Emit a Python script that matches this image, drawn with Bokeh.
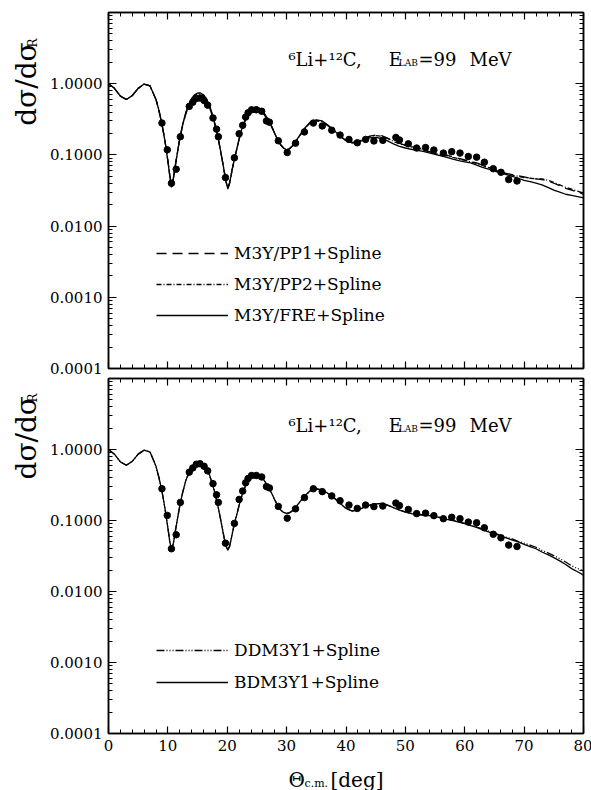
import numpy as np
from bokeh.embed import file_html
from bokeh.layouts import column, row
from bokeh.models import (CustomJSTickFormatter, FixedTicker, Label, Legend, LegendItem,
                          LinearAxis, LogAxis, PrintfTickFormatter, Range1d)
from bokeh.plotting import figure
from bokeh.resources import INLINE

SERIF = "DejaVu Serif"

# ---------------------------------------------------------------------------
# Measured elastic cross section, 6Li + 12C at 99 MeV (ratio to Rutherford)
# ---------------------------------------------------------------------------
theta_exp = [9.0, 9.9, 10.6, 11.4, 12.1, 13.6, 14.2, 14.8, 15.4, 16.1,
             16.7, 17.6, 18.2, 18.5, 19.7, 21.2, 22.0, 22.6, 23.1, 23.5,
             24.1, 24.9, 25.8, 26.6, 27.1, 28.6, 30.1, 31.5, 33.0, 34.5,
             36.0, 37.6, 39.0, 40.5, 41.9, 43.3, 44.7, 46.2, 48.4, 49.0,
             50.5, 51.9, 53.4, 54.8, 56.4, 57.8, 59.2, 60.6, 62.0, 63.3,
             64.8, 66.1, 67.4, 68.8]
ratio_exp = [0.28, 0.118, 0.040, 0.063, 0.18, 0.48, 0.55, 0.62, 0.63, 0.58,
             0.50, 0.33, 0.23, 0.18, 0.048, 0.091, 0.198, 0.26, 0.34, 0.39,
             0.43, 0.43, 0.41, 0.30, 0.288, 0.158, 0.108, 0.146, 0.21, 0.28,
             0.255, 0.222, 0.19, 0.165, 0.148, 0.165, 0.157, 0.16, 0.176, 0.162,
             0.143, 0.125, 0.127, 0.117, 0.106, 0.111, 0.106, 0.095, 0.093, 0.079,
             0.064, 0.057, 0.045, 0.043]

# ---------------------------------------------------------------------------
# Optical-model calculations (angle grid shared by all curves)
# ---------------------------------------------------------------------------
theta_calc = [0, 1, 2, 3, 4, 5, 6, 7, 8,
              8.5, 9, 9.5, 10, 10.3, 10.6, 10.9, 11.3, 11.7, 12,
              12.5, 13, 13.5, 14, 14.5, 15, 15.5, 16, 16.5, 17, 17.5, 18, 18.5, 19, 19.5,
              19.8, 20.1, 20.4, 20.8, 21.2, 21.7, 22,
              22.5, 23, 23.5, 24, 24.5, 25, 25.5, 26, 26.5, 27, 27.5, 28, 28.5, 29, 29.5,
              30, 30.5, 31, 31.5, 32,
              33, 34, 35, 36, 37, 38, 39, 40, 41, 42, 43, 44, 45, 46, 47, 48, 49, 50,
              51, 52, 53, 54, 55, 56, 57, 58, 59, 60, 61, 62, 63, 64, 65, 66, 67, 68,
              69, 70, 71, 72, 73, 74, 75, 76, 77, 78, 79, 80]

m3y_pp1 = [1.00, 0.86, 0.67, 0.60, 0.68, 0.86, 0.99, 0.93, 0.60,
           0.42, 0.27, 0.16, 0.083, 0.054, 0.037, 0.046, 0.076, 0.12, 0.165,
           0.26, 0.37, 0.49, 0.59, 0.66, 0.70, 0.70, 0.66, 0.58, 0.47, 0.35, 0.25, 0.165, 0.10, 0.058,
           0.043, 0.035, 0.041, 0.061, 0.088, 0.13, 0.165,
           0.23, 0.30, 0.36, 0.41, 0.44, 0.45, 0.43, 0.39, 0.34, 0.29, 0.245, 0.20, 0.163, 0.139, 0.125,
           0.120, 0.123, 0.134, 0.152, 0.175,
           0.23, 0.28, 0.30, 0.29, 0.255, 0.215, 0.182, 0.160, 0.150, 0.155, 0.170, 0.183, 0.190, 0.186,
           0.172, 0.157, 0.145, 0.137, 0.131, 0.126, 0.120, 0.112, 0.105, 0.102, 0.099, 0.094, 0.089,
           0.085, 0.081, 0.077, 0.072, 0.067, 0.062, 0.058, 0.055, 0.053, 0.051, 0.049, 0.047, 0.046,
           0.045, 0.043, 0.040, 0.037, 0.034, 0.032, 0.030, 0.028]

m3y_pp2 = [1.00, 0.86, 0.67, 0.60, 0.68, 0.86, 0.99, 0.93, 0.60,
           0.42, 0.27, 0.16, 0.082, 0.053, 0.036, 0.045, 0.075, 0.12, 0.168,
           0.265, 0.38, 0.50, 0.60, 0.68, 0.72, 0.72, 0.68, 0.595, 0.485, 0.36, 0.255, 0.168, 0.10, 0.058,
           0.042, 0.034, 0.040, 0.060, 0.088, 0.13, 0.167,
           0.235, 0.305, 0.37, 0.42, 0.45, 0.46, 0.44, 0.40, 0.35, 0.295, 0.248, 0.20, 0.163, 0.138, 0.124,
           0.119, 0.122, 0.134, 0.152, 0.176,
           0.232, 0.285, 0.305, 0.295, 0.258, 0.218, 0.183, 0.160, 0.149, 0.153, 0.167, 0.180, 0.187, 0.183,
           0.170, 0.155, 0.143, 0.135, 0.129, 0.124, 0.118, 0.110, 0.104, 0.100, 0.097, 0.092, 0.088,
           0.084, 0.080, 0.076, 0.071, 0.066, 0.061, 0.057, 0.054, 0.052, 0.050, 0.048, 0.047, 0.046,
           0.046, 0.044, 0.041, 0.038, 0.035, 0.033, 0.031, 0.029]

m3y_fre = [1.00, 0.86, 0.67, 0.60, 0.68, 0.86, 0.99, 0.93, 0.60,
           0.42, 0.27, 0.16, 0.082, 0.052, 0.035, 0.045, 0.075, 0.12, 0.17,
           0.27, 0.39, 0.51, 0.62, 0.70, 0.74, 0.74, 0.70, 0.61, 0.50, 0.37, 0.26, 0.17, 0.10, 0.058,
           0.042, 0.033, 0.040, 0.060, 0.088, 0.13, 0.17,
           0.24, 0.31, 0.38, 0.43, 0.46, 0.47, 0.45, 0.41, 0.355, 0.30, 0.25, 0.20, 0.163, 0.138, 0.124,
           0.118, 0.122, 0.134, 0.153, 0.178,
           0.235, 0.29, 0.31, 0.30, 0.26, 0.22, 0.185, 0.158, 0.147, 0.150, 0.162, 0.173, 0.176, 0.170,
           0.157, 0.143, 0.132, 0.125, 0.120, 0.116, 0.112, 0.107, 0.102, 0.097, 0.092, 0.087, 0.083,
           0.080, 0.077, 0.072, 0.067, 0.063, 0.059, 0.056, 0.053, 0.050, 0.047, 0.044, 0.042, 0.040,
           0.038, 0.035, 0.032, 0.030, 0.028, 0.027, 0.026, 0.025]

ddm3y1 = [1.00, 0.86, 0.67, 0.60, 0.68, 0.86, 0.98, 0.92, 0.58,
          0.40, 0.26, 0.15, 0.079, 0.053, 0.039, 0.047, 0.075, 0.116, 0.16,
          0.25, 0.355, 0.46, 0.55, 0.61, 0.64, 0.64, 0.60, 0.53, 0.435, 0.325, 0.228, 0.15, 0.093, 0.056,
          0.044, 0.039, 0.044, 0.063, 0.09, 0.13, 0.163,
          0.228, 0.295, 0.355, 0.405, 0.435, 0.44, 0.42, 0.383, 0.338, 0.288, 0.24, 0.195, 0.162, 0.14, 0.13,
          0.127, 0.129, 0.138, 0.153, 0.173,
          0.22, 0.262, 0.277, 0.268, 0.238, 0.208, 0.174, 0.148, 0.137, 0.141, 0.153, 0.164, 0.170, 0.172,
          0.164, 0.152, 0.141, 0.132, 0.126, 0.122, 0.120, 0.118, 0.115, 0.110, 0.105, 0.101, 0.096,
          0.091, 0.086, 0.081, 0.076, 0.071, 0.067, 0.062, 0.058, 0.055, 0.051, 0.048, 0.045, 0.042,
          0.038, 0.035, 0.032, 0.029, 0.026, 0.023, 0.021, 0.0195]

bdm3y1 = [1.00, 0.86, 0.67, 0.60, 0.68, 0.86, 0.98, 0.92, 0.58,
          0.40, 0.26, 0.15, 0.078, 0.052, 0.038, 0.046, 0.074, 0.115, 0.16,
          0.25, 0.36, 0.47, 0.56, 0.62, 0.65, 0.65, 0.61, 0.54, 0.44, 0.33, 0.23, 0.15, 0.092, 0.055,
          0.043, 0.038, 0.043, 0.062, 0.09, 0.13, 0.165,
          0.23, 0.30, 0.36, 0.41, 0.44, 0.44, 0.42, 0.385, 0.34, 0.29, 0.24, 0.195, 0.162, 0.14, 0.13,
          0.126, 0.128, 0.137, 0.152, 0.173,
          0.22, 0.265, 0.28, 0.27, 0.24, 0.21, 0.175, 0.148, 0.136, 0.140, 0.153, 0.165, 0.172, 0.174,
          0.165, 0.152, 0.140, 0.131, 0.125, 0.121, 0.119, 0.117, 0.114, 0.109, 0.104, 0.100, 0.095,
          0.090, 0.085, 0.080, 0.074, 0.069, 0.065, 0.061, 0.057, 0.053, 0.050, 0.046, 0.043, 0.040,
          0.036, 0.033, 0.030, 0.027, 0.024, 0.021, 0.019, 0.017]

# Axis ticks
x_major = [0, 10, 20, 30, 40, 50, 60, 70, 80]
x_minor = [t for t in range(0, 81, 2) if t % 10]
y_major = [1e-4, 1e-3, 1e-2, 1e-1, 1.0]
y_minor = [m * 10.0 ** e for e in range(-4, 1) for m in range(2, 10)]

TITLE_W = 47          # width of the strip carrying the vertical axis title
FRAME_W = 475


def style_axis(ax, major_len, minor_len, labels):
    ax.major_tick_in = major_len
    ax.major_tick_out = 0
    ax.minor_tick_in = minor_len
    ax.minor_tick_out = 0
    ax.axis_line_color = "black"
    ax.axis_line_width = 1.5
    ax.major_tick_line_color = "black"
    ax.minor_tick_line_color = "black"
    ax.major_tick_line_width = 1.2
    ax.minor_tick_line_width = 1.0
    ax.major_label_text_font = SERIF
    ax.major_label_text_font_size = "15px"
    ax.major_label_text_color = "black"
    ax.axis_label = None
    if not labels:
        ax.formatter = CustomJSTickFormatter(code="return ''")
        ax.major_label_text_font_size = "0px"
        ax.major_label_standoff = 0


def make_panel(frame_h, border_top, border_bottom, x_labels):
    p = figure(title=None, frame_width=FRAME_W, frame_height=frame_h,
               x_range=Range1d(0, 80), y_range=Range1d(1e-4, 10),
               y_axis_type="log", output_backend="svg", toolbar_location=None,
               min_border_left=107 - TITLE_W, min_border_right=9,
               min_border_top=border_top, min_border_bottom=border_bottom,
               background_fill_color="white", border_fill_color="white")
    p.xgrid.visible = False
    p.ygrid.visible = False
    p.outline_line_color = "black"
    p.outline_line_width = 1.5

    xa = p.xaxis[0]
    xa.ticker = FixedTicker(ticks=x_major, minor_ticks=x_minor)
    style_axis(xa, 7, 4, x_labels)
    if x_labels:
        xa.major_label_standoff = 6

    ya = p.yaxis[0]
    ya.ticker = FixedTicker(ticks=y_major, minor_ticks=y_minor)
    ya.formatter = PrintfTickFormatter(format="%.4f")
    style_axis(ya, 8, 4, True)
    ya.major_label_standoff = 6

    top = LinearAxis(ticker=FixedTicker(ticks=x_major, minor_ticks=x_minor))
    style_axis(top, 7, 4, False)
    p.add_layout(top, "above")

    right = LogAxis(ticker=FixedTicker(ticks=y_major, minor_ticks=y_minor))
    style_axis(right, 8, 4, False)
    p.add_layout(right, "right")

    # reaction annotation
    for tx, ty, txt, size in [(30.3, 2.17, "⁶Li+¹²C,", "18px"),
                              (47.2, 2.17, "E", "18px"),
                              (48.9, 1.95, "LAB", "9px"),
                              (52.2, 2.17, "=99", "18px"),
                              (60.8, 2.17, "MeV", "18px")]:
        p.add_layout(Label(x=tx, y=ty, text=txt, text_font=SERIF, text_font_size=size,
                           text_color="black", text_align="left", text_baseline="alphabetic"))

    p.scatter(theta_exp, ratio_exp, size=6.5, marker="circle",
              fill_color="black", line_color="black")
    return p


def text_strip(width, height):
    s = figure(title=None, width=width, height=height, x_range=Range1d(0, width),
               y_range=Range1d(0, height), x_axis_location=None, y_axis_location=None,
               output_backend="svg", toolbar_location=None,
               min_border_left=0, min_border_right=0, min_border_top=0, min_border_bottom=0,
               outline_line_color=None, background_fill_color="white",
               border_fill_color="white")
    s.xgrid.visible = False
    s.ygrid.visible = False
    return s


def y_title(height, base_y, sub_y):
    # rotated text is anchored on its middle line so the whole box sits inside the strip
    s = text_strip(TITLE_W, height)
    s.add_layout(Label(x=25.5, y=height - base_y, text="dσ/dσ", angle=np.pi / 2,
                       text_font=SERIF, text_font_size="28px", text_color="black",
                       text_align="left", text_baseline="middle"))
    s.add_layout(Label(x=32, y=height - sub_y, text="R", angle=np.pi / 2,
                       text_font=SERIF, text_font_size="12px", text_color="black",
                       text_align="left", text_baseline="middle"))
    return s


def add_legend(p, entries, loc, spacing):
    leg = Legend(items=[LegendItem(label=lab, renderers=[r]) for lab, r in entries],
                 location=loc, glyph_width=72, glyph_height=20, label_height=20,
                 spacing=spacing, label_standoff=6, padding=0, margin=0,
                 border_line_alpha=0, background_fill_alpha=0,
                 label_text_font=SERIF, label_text_font_size="17px",
                 label_text_color="black")
    p.add_layout(leg)


LW = 1.3

# upper panel: M3Y with different exchange treatments
p1 = make_panel(356, 12, 9, False)
r_pp1 = p1.line(theta_calc, m3y_pp1, line_color="black", line_width=LW, line_dash="10 6")
r_pp2 = p1.line(theta_calc, m3y_pp2, line_color="black", line_width=LW, line_dash="5 2 1 2")
r_fre = p1.line(theta_calc, m3y_fre, line_color="black", line_width=LW)
add_legend(p1, [("M3Y/PP1+Spline", r_pp1), ("M3Y/PP2+Spline", r_pp2),
                ("M3Y/FRE+Spline", r_fre)], (48, 43), 11)

# lower panel: density-dependent interactions
p2 = make_panel(355, 1, 27, True)
r_dd = p2.line(theta_calc, ddm3y1, line_color="black", line_width=LW, line_dash="8 2 1 2 1 2 1 2")
r_bd = p2.line(theta_calc, bdm3y1, line_color="black", line_width=LW)
add_legend(p2, [("DDM3Y1+Spline", r_dd), ("BDM3Y1+Spline", r_bd)], (48, 41), 12)

# vertical titles (heights follow each panel: border + frame + border)
t1 = y_title(377, 120, 37)
t2 = y_title(383, 109, 26)

# horizontal axis title: Theta_c.m. [deg]
xt = text_strip(591, 30)
for tx, ty, txt, size in [(288, 11, "Θ", "20px"),
                          (304, 7, "c.m.", "11px"),
                          (330, 11, "[deg]", "20px")]:
    xt.add_layout(Label(x=tx, y=ty, text=txt, text_font=SERIF, text_font_size=size,
                        text_color="black", text_align="left", text_baseline="alphabetic"))

layout = column(row(t1, p1, spacing=0), row(t2, p2, spacing=0), xt, spacing=0)
open("out.html", "w").write(file_html(layout, INLINE))
